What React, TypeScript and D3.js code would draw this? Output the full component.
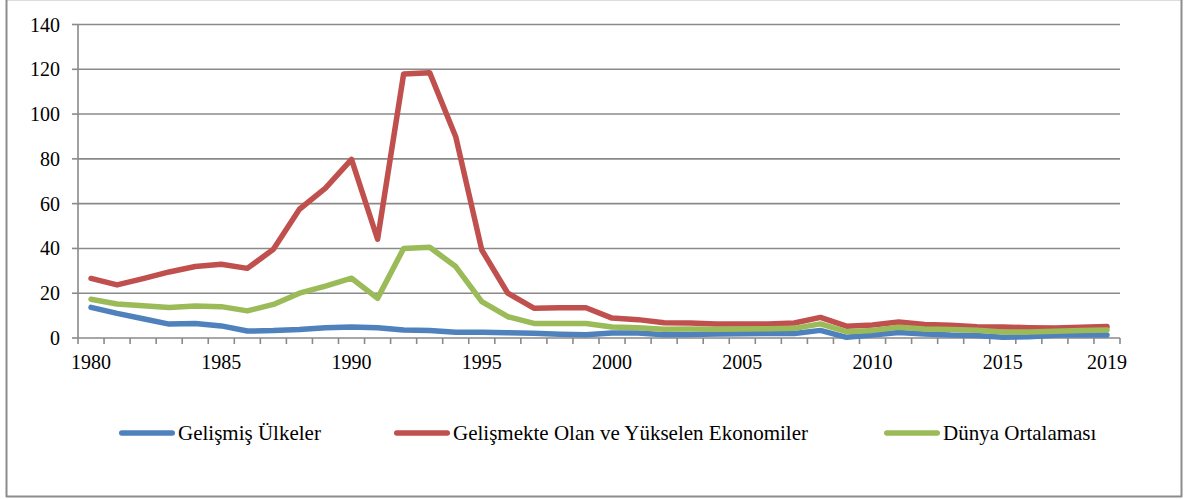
import React from "react";
import * as d3 from "d3";

const years: number[] = d3.range(1980, 2020);
const yTicks: number[] = [0, 20, 40, 60, 80, 100, 120, 140];
const xLabelYears: number[] = [1980, 1985, 1990, 1995, 2000, 2005, 2010, 2015, 2019];

const seriesNames: string[] = [
  "Gelişmiş Ülkeler",
  "Gelişmekte Olan ve Yükselen Ekonomiler",
  "Dünya Ortalaması",
];
const seriesColors: string[] = ["#4F81BD", "#C0504D", "#9BBB59"];

const advanced: number[] = [
  13.7, 11.0, 8.6, 6.2, 6.5, 5.4, 3.1, 3.3, 3.8, 4.6,
  4.9, 4.6, 3.6, 3.3, 2.6, 2.6, 2.4, 2.1, 1.7, 1.4,
  2.2, 2.2, 1.5, 1.6, 1.8, 1.9, 2.0, 2.0, 3.4, 0.3,
  1.3, 2.5, 1.8, 1.3, 1.1, 0.3, 0.6, 1.2, 1.4, 1.3,
];
const emerging: number[] = [
  26.6, 23.7, 26.5, 29.5, 31.9, 32.9, 31.1, 39.6, 57.5, 66.9,
  79.8, 44.1, 117.9, 118.5, 89.9, 39.3, 20.0, 13.3, 13.5, 13.5,
  8.9, 8.2, 6.8, 6.7, 6.2, 6.3, 6.2, 6.7, 9.2, 5.3,
  5.8, 7.1, 6.0, 5.7, 5.0, 4.9, 4.6, 4.5, 4.8, 5.1,
];
const world: number[] = [
  17.3, 15.2, 14.4, 13.6, 14.3, 14.0, 12.1, 15.0, 20.0, 23.2,
  26.7, 17.7, 40.0, 40.5, 31.9, 16.2, 9.5, 6.5, 6.5, 6.5,
  4.9, 4.6, 3.9, 4.0, 3.9, 4.0, 4.1, 4.3, 6.3, 2.8,
  3.4, 4.8, 4.0, 3.8, 3.5, 2.7, 2.7, 3.0, 3.4, 3.6,
];
const allSeries: number[][] = [advanced, emerging, world];

const legendLineX: number[] = [119, 394, 884];

const FONT = '"Liberation Serif"';

export default function App() {
  const W = 1186;
  const H = 499;
  const left = 78;
  const right = 1120;
  const top = 24.5;
  const bottom = 338;
  const gridColor = "#8a8a8a";
  const txt = { fontFamily: FONT } as React.CSSProperties;

  const x = d3.scaleBand<number>().domain(years).range([left, right]).padding(0);
  const y = d3.scaleLinear().domain([0, 140]).range([bottom, top]);
  const cx = (yr: number) => (x(yr) as number) + x.bandwidth() / 2;

  const line = d3
    .line<number>()
    .x((_, i) => cx(years[i]))
    .y((v) => y(v));

  const boundaries = d3.range(0, years.length + 1).map((i) => left + i * x.bandwidth());

  return (
    <svg
      width={W}
      height={H}
      style={{ position: "absolute", left: 0, top: 0, background: "#fff" }}
    >
      <rect x={0} y={0} width={W} height={H} fill="#fff" />
      <line x1={6} y1={0.5} x2={1182} y2={0.5} stroke="#dcdcdc" strokeWidth={1} />
      <line x1={6.5} y1={0} x2={6.5} y2={497} stroke="#8c8c8c" strokeWidth={2} />
      <line x1={1181.5} y1={0} x2={1181.5} y2={497} stroke="#8c8c8c" strokeWidth={2} />
      <line x1={6} y1={496.5} x2={1182} y2={496.5} stroke="#8c8c8c" strokeWidth={2} />

      {yTicks.map((t) => (
        <g key={"g" + t}>
          {t > 0 && (
            <line x1={left} x2={right} y1={y(t)} y2={y(t)} stroke={gridColor} strokeWidth={1.6} />
          )}
          <line x1={left - 6} x2={left} y1={y(t)} y2={y(t)} stroke={gridColor} strokeWidth={1.6} />
          <text x={60} y={y(t)} dy="0.35em" textAnchor="end" fontSize={20} fill="#000" style={txt}>
            {t}
          </text>
        </g>
      ))}

      <line x1={left} x2={left} y1={top} y2={bottom} stroke={gridColor} strokeWidth={1.6} />
      <line x1={left} x2={right} y1={bottom} y2={bottom} stroke={gridColor} strokeWidth={1.6} />
      {boundaries.map((bx, i) => (
        <line key={"t" + i} x1={bx} x2={bx} y1={bottom} y2={bottom + 6} stroke={gridColor} strokeWidth={1.6} />
      ))}
      {xLabelYears.map((yr) => (
        <text key={"xl" + yr} x={cx(yr)} y={369} textAnchor="middle" fontSize={20} fill="#000" style={txt}>
          {yr}
        </text>
      ))}

      {allSeries.map((s, i) => (
        <path
          key={"s" + i}
          d={line(s) as string}
          fill="none"
          stroke={seriesColors[i]}
          strokeWidth={5.5}
          strokeLinejoin="round"
          strokeLinecap="round"
        />
      ))}

      {seriesNames.map((n, i) => (
        <g key={"l" + i}>
          <line
            x1={legendLineX[i] + 2.75}
            x2={legendLineX[i] + 56 - 2.75}
            y1={433}
            y2={433}
            stroke={seriesColors[i]}
            strokeWidth={5.5}
            strokeLinecap="round"
          />
          <text x={legendLineX[i] + 59} y={433} dy="0.35em" fontSize={21} fill="#000" style={txt}>
            {n}
          </text>
        </g>
      ))}
    </svg>
  );
}
